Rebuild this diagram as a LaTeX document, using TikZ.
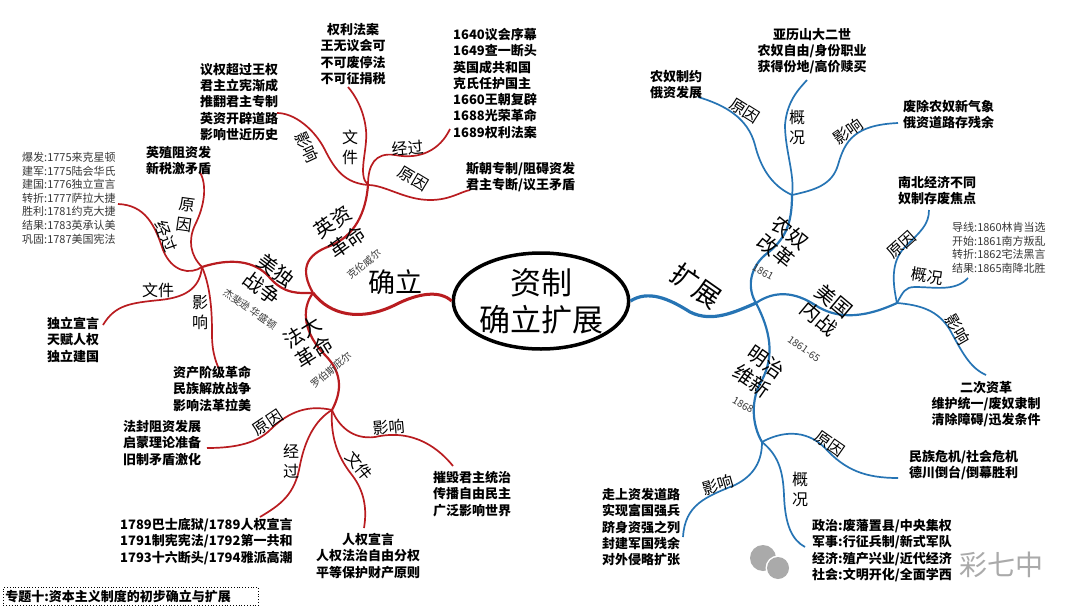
\documentclass[tikz,border=0pt]{standalone}
\usepackage{fontspec}
\setmainfont{Noto Sans CJK SC}
\usetikzlibrary{shapes.geometric}
\definecolor{rbr}{RGB}{185,28,32}
\definecolor{bbr}{RGB}{38,116,180}
\definecolor{gtx}{RGB}{55,55,55}
\definecolor{wmk}{RGB}{170,170,170}
\begin{document}
\begin{tikzpicture}[x=1pt,y=-1pt,
  rl/.style={draw=rbr, line width=1.7pt},
  rm/.style={draw=rbr, line width=2.2pt},
  rmain/.style={draw=rbr, line width=3pt},
  bl/.style={draw=bbr, line width=1.7pt},
  bm/.style={draw=bbr, line width=2.2pt},
  bmain/.style={draw=bbr, line width=3.2pt},
  txt/.style={font=\bfseries\fontsize{13}{16.3}\selectfont, inner sep=0, anchor=north west, align=left},
  txtc/.style={font=\bfseries\fontsize{13}{16.3}\selectfont, inner sep=0, anchor=north, align=center},
  gtxt/.style={font=\fontsize{11}{13.6}\selectfont, text=gtx, inner sep=0, anchor=north west, align=left},
  lab/.style={font=\fontsize{16}{20}\selectfont, inner sep=0, align=center},
  big/.style={font=\fontsize{20}{23}\selectfont, inner sep=0},
  sml/.style={font=\fontsize{10}{12}\selectfont, text=gtx, inner sep=0},
  huge2/.style={font=\fontsize{27}{30}\selectfont, inner sep=0},
]
\useasboundingbox (0,0) rectangle (1080,608);
\fill[white] (0,0) rectangle (1080,608);

% watermark
\fill[wmk] (763,558) circle (13);
\fill[white] (778,568) circle (12.5);
\fill[wmk] (778,568) circle (11);
\node[font=\fontsize{28}{30}\selectfont, text=wmk, inner sep=0] (wmtext) at (1001,565) {彩七中};

% centre
\node[draw, line width=3.5pt, ellipse, minimum width=174, minimum height=96, inner sep=0, align=center, font=\fontsize{31}{37}\selectfont] (ctr) at (541,301) {资制\\确立扩展};

% ---------- red side ----------
\coordinate (J) at (313,293);
\coordinate (E) at (368,185);
\coordinate (A) at (202,267);
\coordinate (F) at (332,410);

\draw[rmain] (J) .. controls (330,315) and (360,322) .. (395,305) .. controls (418,293) and (440,290) .. (ctr.west);
\node[huge2] (lQL) at (395,282) {确立};

\draw[rm] (J) .. controls (300,270) and (305,255) .. (330,246) .. controls (355,236) and (366,212) .. (E);
\draw[rm] (A) .. controls (230,258) and (255,260) .. (270,278) .. controls (285,295) and (300,293) .. (J);
\draw[rm] (J) .. controls (300,310) and (305,335) .. (325,355) .. controls (345,375) and (340,395) .. (F);

\node[big, rotate=35] (lYZa) at (333,222) {英资};
\node[big, rotate=35] (lYZb) at (347,242) {革命};
\node[sml, rotate=38] (sYZ) at (364,264) {克伦威尔};
\node[big, rotate=-37] (lMDa) at (276,270) {美独};
\node[big, rotate=-37] (lMDb) at (262,288) {战争};
\node[sml, rotate=-35] (sMD) at (250,309) {杰斐逊\ 华盛顿};
\node[big, rotate=32] (lFDa) at (302,332) {法大};
\node[big, rotate=32] (lFDb) at (314,352) {革命};
\node[sml, rotate=40] (sFD) at (331,370) {罗伯斯庇尔};

% English leaves
\coordinate (EI) at (277,113);
\coordinate (ED) at (348,87);
\coordinate (EP) at (450,129);
\coordinate (EC) at (470,190);
\draw[rl] (E) .. controls (345,183) and (335,170) .. (325,150) .. controls (315,130) and (295,113) .. (EI);
\draw[rl] (E) .. controls (357,175) and (368,150) .. (366,130) .. controls (364,110) and (355,95) .. (ED);
\draw[rl] (E) .. controls (368,165) and (375,152) .. (395,155) .. controls (420,160) and (440,150) .. (EP);
\draw[rl] (E) .. controls (385,185) and (405,200) .. (430,200) .. controls (450,200) and (460,192) .. (EC);
\node[lab, rotate=-65] (lEI) at (307,147) {影响};
\node[lab] (lED) at (350,147) {文\\件};
\node[lab, rotate=5] (lEP) at (408,148) {经过};
\node[lab, rotate=-31] (lEC) at (413,179) {原因};

\node[txt] (tEI) at (200,63) {议权超过王权\\君主立宪渐成\\推翻君主专制\\英资开辟道路\\影响世近历史};
\node[txtc] (tED) at (353,23) {权利法案\\王无议会可\\不可废停法\\不可征捐税};
\node[txt] (tEP) at (453,28) {1640议会序幕\\1649查一断头\\英国成共和国\\克氏任护国主\\1660王朝复辟\\1688光荣革命\\1689权利法案};
\node[txt] (tEC) at (466,162) {斯朝专制/阻碍资发\\君主专断/议王矛盾};

% American leaves
\coordinate (AC) at (200,172);
\coordinate (AP) at (118,204);
\coordinate (AD) at (103,325);
\coordinate (AI) at (219,369);
\draw[rl] (A) .. controls (190,255) and (188,240) .. (195,225) .. controls (205,205) and (207,185) .. (AC);
\draw[rl] (A) .. controls (190,275) and (172,272) .. (163,250) .. controls (155,225) and (145,205) .. (AP);
\draw[rl] (A) .. controls (200,285) and (190,297) .. (160,300) .. controls (130,303) and (115,305) .. (AD);
\draw[rl] (A) .. controls (212,290) and (212,320) .. (212,335) .. controls (212,350) and (215,360) .. (AI);
\node[lab, rotate=-8] (lAC) at (186,215) {原\\因};
\node[lab, rotate=-70] (lAP) at (166,236) {经过};
\node[lab] (lAD) at (158,290) {文件};
\node[lab] (lAI) at (200,313) {影\\响};

\node[txt] (tAC) at (146,146) {英殖阻资发\\新税激矛盾};
\node[gtxt] (tAP) at (22,152) {爆发:1775来克星顿\\建军:1775陆会华氏\\建国:1776独立宣言\\转折:1777萨拉大捷\\胜利:1781约克大捷\\结果:1783英承认美\\巩固:1787美国宪法};
\node[txt] (tAD) at (47,317) {独立宣言\\天赋人权\\独立建国};
\node[txt] (tAI) at (173,366) {资产阶级革命\\民族解放战争\\影响法革拉美};

% French leaves
\coordinate (FC) at (207,448);
\coordinate (FP) at (260,517);
\coordinate (FD) at (364,528);
\coordinate (FI) at (453,466);
\draw[rl] (F) .. controls (310,405) and (290,410) .. (270,430) .. controls (255,445) and (230,448) .. (FC);
\draw[rl] (F) .. controls (315,420) and (305,440) .. (300,465) .. controls (295,495) and (280,505) .. (FP);
\draw[rl] (F) .. controls (330,440) and (340,460) .. (352,475) .. controls (365,492) and (367,510) .. (FD);
\draw[rl] (F) .. controls (338,425) and (352,440) .. (375,437) .. controls (415,428) and (440,450) .. (FI);
\node[lab, rotate=34] (lFC) at (268,423) {原因};
\node[lab] (lFP) at (291,461) {经\\过};
\node[lab, rotate=-51] (lFDc) at (359,466) {文件};
\node[lab, rotate=5] (lFI) at (389,427) {影响};

\node[txt] (tFC) at (123,420) {法封阻资发展\\启蒙理论准备\\旧制矛盾激化};
\node[txt] (tFP) at (120,518) {1789巴士底狱/1789人权宣言\\1791制宪宪法/1792第一共和\\1793十六断头/1794雅派高潮};
\node[txtc] (tFD) at (368,533) {人权宣言\\人权法治自由分权\\平等保护财产原则};
\node[txt] (tFI) at (433,471) {摧毁君主统治\\传播自由民主\\广泛影响世界};

% ---------- blue side ----------
\coordinate (B) at (756,303);
\coordinate (U) at (897,303);
\coordinate (N) at (792,195);
\coordinate (M) at (762,442);

\draw[bmain] (ctr.east) .. controls (648,290) and (668,298) .. (690,312) .. controls (712,323) and (735,312) .. (B);
\node[huge2, rotate=-35] (lKZ) at (696,286) {扩展};

\draw[bm] (B) .. controls (775,290) and (795,292) .. (815,305) .. controls (835,318) and (860,320) .. (U);
\draw[bm] (B) .. controls (748,290) and (748,270) .. (765,255) .. controls (785,240) and (792,225) .. (N);
\draw[bm] (B) .. controls (770,330) and (775,355) .. (762,380) .. controls (750,400) and (752,425) .. (M);

\node[big, rotate=-39] (lNNa) at (790,233) {农奴};
\node[big, rotate=-39] (lNNb) at (776,251) {改革};
\node[sml, rotate=-30] (sNN) at (763,272) {1861};
\node[big, rotate=-40] (lMGa) at (834,301) {美国};
\node[big, rotate=-40] (lMGb) at (819,319) {内战};
\node[sml, rotate=-35] (sMG) at (804,349) {1861-65};
\node[big, rotate=-35] (lMZa) at (766,362) {明治};
\node[big, rotate=-35] (lMZb) at (752,381) {维新};
\node[sml, rotate=-30] (sMZ) at (743,405) {1868};

% Russia leaves
\coordinate (NC) at (698,97);
\coordinate (NG) at (807,80);
\coordinate (NI) at (898,123);
\draw[bl] (N) .. controls (770,185) and (760,165) .. (755,145) .. controls (748,118) and (725,105) .. (NC);
\draw[bl] (N) .. controls (795,175) and (785,150) .. (785,125) .. controls (787,100) and (800,88) .. (NG);
\draw[bl] (N) .. controls (815,190) and (832,185) .. (838,165) .. controls (845,140) and (855,125) .. (NI);
\node[lab, rotate=-32] (lNC) at (745,111) {原因};
\node[lab] (lNG) at (797,127) {概\\况};
\node[lab, rotate=35] (lNI) at (848,131) {影响};

\node[txtc] (tNG) at (812,28) {亚历山大二世\\农奴自由/身份职业\\获得份地/高价赎买};
\node[txt] (tNC) at (650,70) {农奴制约\\俄资发展};
\node[txt] (tNI) at (903,100) {废除农奴新气象\\俄资道路存残余};

% USA leaves
\coordinate (UC) at (929,210);
\coordinate (UG) at (968,278);
\coordinate (UI) at (986,375);
\draw[bl] (U) .. controls (893,285) and (890,262) .. (905,247) .. controls (920,232) and (929,225) .. (UC);
\draw[bl] (U) .. controls (903,292) and (905,287) .. (915,287) .. controls (935,287) and (955,292) .. (UG);
\draw[bl] (U) .. controls (920,305) and (938,310) .. (950,330) .. controls (962,352) and (970,368) .. (UI);
\node[lab, rotate=42] (lUC) at (902,245) {原因};
\node[lab, rotate=-8] (lUG) at (927,276) {概况};
\node[lab, rotate=-60] (lUI) at (958,329) {影响};

\node[txt] (tUC) at (898,176) {南北经济不同\\奴制存废焦点};
\node[gtxt] (tUG) at (952,222) {导线:1860林肯当选\\开始:1861南方叛乱\\转折:1862宅法黑言\\结果:1865南降北胜};
\node[txtc] (tUI) at (986,381) {二次资革\\维护统一/废奴隶制\\清除障碍/迅发条件};

% Japan leaves
\coordinate (MC) at (898,478);
\coordinate (MG) at (805,547);
\coordinate (MI) at (683,537);
\draw[bl] (M) .. controls (780,432) and (805,428) .. (825,448) .. controls (845,470) and (865,478) .. (MC);
\draw[bl] (M) .. controls (778,455) and (783,470) .. (784,495) .. controls (785,525) and (792,540) .. (MG);
\draw[bl] (M) .. controls (762,460) and (755,475) .. (735,485) .. controls (705,497) and (685,505) .. (MI);
\node[lab, rotate=-35] (lMC) at (830,444) {原因};
\node[lab] (lMGc) at (800,489) {概\\况};
\node[lab, rotate=16] (lMI) at (718,485) {影响};

\node[txt] (tMC) at (909,450) {民族危机/社会危机\\德川倒台/倒幕胜利};
\node[txt] (tMG) at (812,519) {政治:废藩置县/中央集权\\军事:行征兵制/新式军队\\经济:殖产兴业/近代经济\\社会:文明开化/全面学西};
\node[txt] (tMI) at (602,488) {走上资发道路\\实现富国强兵\\跻身资强之列\\封建军国残余\\对外侵略扩张};

% title box
\node[draw, dotted, line width=0.8pt, anchor=north west, minimum width=255, minimum height=18, inner sep=2pt, text width=251, font=\bfseries\fontsize{13}{15}\selectfont] (title) at (3,587) {专题十:资本主义制度的初步确立与扩展};
\end{tikzpicture}
\end{document}
